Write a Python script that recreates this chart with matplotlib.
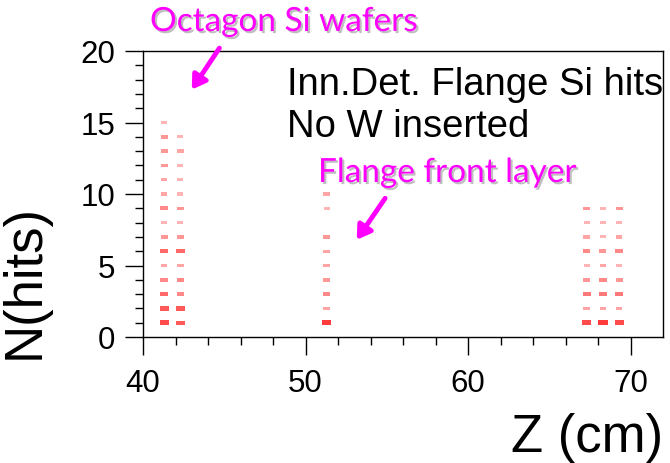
import numpy as np
import matplotlib.pyplot as plt
import matplotlib.patheffects as pe

# columns of hits: z position (cm) and counts for N = 1, 2, 3, ...
z_cols = [41.3, 42.3, 51.3, 67.3, 68.3, 69.3]
counts = [
    [9, 8, 7, 5, 3, 7, 4, 2, 5, 3, 3, 4, 4, 4, 2],
    [8, 8, 5, 5, 3, 7, 4, 2, 4, 2, 2, 2, 3, 2],
    [10, 3, 5, 4, 3, 3, 4, 0, 2, 3],
    [9, 3, 6, 4, 2, 5, 3, 2, 4],
    [10, 3, 6, 5, 3, 4, 2, 2, 2],
    [9, 3, 6, 4, 2, 5, 3, 2, 4],
]
x_ticks = [40, 50, 60, 70]
y_ticks = [0, 5, 10, 15, 20]

plt.rcParams['font.family'] = ['Liberation Sans', 'DejaVu Sans']

fig = plt.figure(figsize=(6.7, 4.64), dpi=100)
ax = fig.add_axes([143/670, 126/464, 520/670, 286/464])

xs, ys, cs, ss = [], [], [], []
for z, col in zip(z_cols, counts):
    for n, c in enumerate(col, start=1):
        if c == 0:
            continue
        xs.append(z)
        ys.append(n)
        cs.append((1.0, 0.15, 0.15, min(0.2 + 0.07 * c, 0.95)))
        ss.append(12 + 3.5 * c)

rect = [(-1, -0.5), (1, -0.5), (1, 0.5), (-1, 0.5)]
ax.scatter(xs, ys, s=ss, c=cs, marker=rect, linewidths=0)

ax.set_xlim(40, 72)
ax.set_ylim(0, 20)
ax.set_xticks(x_ticks)
ax.set_yticks(y_ticks)
ax.set_xticks(np.arange(40, 72, 2), minor=True)
ax.set_yticks(np.arange(0, 21, 1), minor=True)
ax.tick_params(which='major', direction='out', length=13, width=1, labelsize=22.5, pad=7)
ax.tick_params(which='minor', direction='out', length=5.5, width=1)
ax.tick_params(axis='x', pad=9)
for sp in ax.spines.values():
    sp.set_linewidth(1)

fig.text(663/670, 1 - 452/464, 'Z (cm)', ha='right', va='baseline', fontsize=38)
fig.text(50/670, 1 - 204/464, 'N(hits)', rotation=90, ha='right', va='bottom',
         rotation_mode='anchor', fontsize=38)

fig.text(287/670, 1 - 95/464, 'Inn.Det. Flange Si hits', ha='left', va='baseline', fontsize=27.5)
fig.text(287/670, 1 - 137/464, 'No W inserted', ha='left', va='baseline', fontsize=27.5)

shadow = [pe.SimplePatchShadow(offset=(1.5, -1.5), shadow_rgbFace='gray', alpha=0.5), pe.Normal()]
fig.text(150/670, 1 - 32/464, 'Octagon Si wafers', ha='left', va='baseline', fontsize=24,
         color='#ff00ff', family=['Lato', 'DejaVu Sans'], path_effects=shadow)
fig.text(318/670, 1 - 183/464, 'Flange front layer', ha='left', va='baseline', fontsize=24,
         color='#ff00ff', family=['Lato', 'DejaVu Sans'], path_effects=shadow)

arrow = dict(arrowstyle='-|>,head_length=0.8,head_width=0.5', color='#ff00ff', lw=3.5,
             shrinkA=0, shrinkB=0)
ax.annotate('', xy=(43.0, 17.3), xytext=(44.7, 20.2), arrowprops=arrow, annotation_clip=False)
ax.annotate('', xy=(53.15, 6.8), xytext=(54.9, 9.7), arrowprops=arrow, annotation_clip=False)

fig.savefig('out.png', dpi=100)
